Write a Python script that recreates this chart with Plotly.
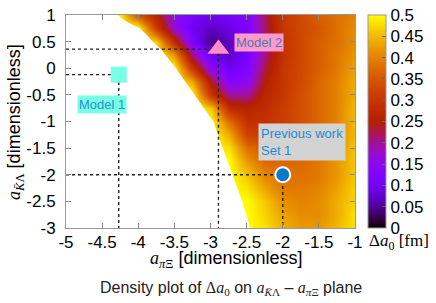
import math
import plotly.graph_objects as go

# ---------------- data ----------------
a_pixi = [-5.0, -4.75, -4.5, -4.25, -4.0, -3.75, -3.5, -3.25, -3.0,
          -2.75, -2.5, -2.25, -2.0, -1.75, -1.5, -1.25, -1.0]
a_kl = [1.0, 0.75, 0.5, 0.25, 0.0, -0.25, -0.5, -0.75, -1.0,
        -1.25, -1.5, -1.75, -2.0, -2.25, -2.5, -2.75, -3.0]

# Delta a0 [fm], rows from a_kl = 1 (top) down to a_kl = -3 (bottom)
delta_a0 = [
    [0.50, 0.50, 0.50, 0.49, 0.34, 0.26, 0.16, 0.11, 0.10, 0.11, 0.13, 0.22, 0.30, 0.33, 0.36, 0.38, 0.40],
    [0.50, 0.50, 0.50, 0.50, 0.50, 0.31, 0.17, 0.10, 0.07, 0.09, 0.12, 0.22, 0.30, 0.33, 0.35, 0.38, 0.41],
    [0.50, 0.50, 0.50, 0.50, 0.50, 0.47, 0.28, 0.12, 0.04, 0.07, 0.11, 0.21, 0.29, 0.33, 0.36, 0.38, 0.41],
    [0.50, 0.50, 0.50, 0.50, 0.50, 0.50, 0.42, 0.21, 0.09, 0.07, 0.11, 0.21, 0.29, 0.33, 0.36, 0.39, 0.42],
    [0.50, 0.50, 0.50, 0.50, 0.50, 0.50, 0.50, 0.30, 0.15, 0.10, 0.12, 0.23, 0.30, 0.33, 0.36, 0.39, 0.43],
    [0.50, 0.50, 0.50, 0.50, 0.50, 0.50, 0.50, 0.44, 0.24, 0.14, 0.15, 0.25, 0.30, 0.33, 0.37, 0.40, 0.44],
    [0.50, 0.50, 0.50, 0.50, 0.50, 0.50, 0.50, 0.50, 0.30, 0.20, 0.20, 0.27, 0.30, 0.34, 0.37, 0.40, 0.44],
    [0.50, 0.50, 0.50, 0.50, 0.50, 0.50, 0.50, 0.50, 0.46, 0.28, 0.26, 0.28, 0.31, 0.34, 0.37, 0.40, 0.45],
    [0.50, 0.50, 0.50, 0.50, 0.50, 0.50, 0.50, 0.50, 0.50, 0.38, 0.29, 0.29, 0.31, 0.34, 0.37, 0.40, 0.45],
    [0.50, 0.50, 0.50, 0.50, 0.50, 0.50, 0.50, 0.50, 0.50, 0.44, 0.32, 0.31, 0.33, 0.35, 0.38, 0.41, 0.45],
    [0.50, 0.50, 0.50, 0.50, 0.50, 0.50, 0.50, 0.50, 0.50, 0.48, 0.38, 0.35, 0.35, 0.36, 0.38, 0.41, 0.46],
    [0.50, 0.50, 0.50, 0.50, 0.50, 0.50, 0.50, 0.50, 0.50, 0.50, 0.42, 0.37, 0.37, 0.37, 0.39, 0.42, 0.46],
    [0.50, 0.50, 0.50, 0.50, 0.50, 0.50, 0.50, 0.50, 0.50, 0.50, 0.46, 0.40, 0.38, 0.38, 0.39, 0.42, 0.46],
    [0.50, 0.50, 0.50, 0.50, 0.50, 0.50, 0.50, 0.50, 0.50, 0.50, 0.48, 0.43, 0.39, 0.39, 0.40, 0.43, 0.47],
    [0.50, 0.50, 0.50, 0.50, 0.50, 0.50, 0.50, 0.50, 0.50, 0.50, 0.50, 0.46, 0.41, 0.40, 0.41, 0.44, 0.47],
    [0.50, 0.50, 0.50, 0.50, 0.50, 0.50, 0.50, 0.50, 0.50, 0.50, 0.50, 0.47, 0.43, 0.41, 0.41, 0.44, 0.48],
    [0.50, 0.50, 0.50, 0.50, 0.50, 0.50, 0.50, 0.50, 0.50, 0.50, 0.50, 0.48, 0.44, 0.42, 0.42, 0.45, 0.48],
]

# edge of the region where a solution exists (white = no solution)
edge_a_kl = [1.0, 0.875, 0.75, 0.625, 0.5, 0.375, 0.25, 0.125, 0.0,
             -0.25, -0.5, -0.75, -1.0, -1.5, -2.0, -2.5, -3.0]
edge_a_pixi = [-4.29, -4.16, -3.98, -3.88, -3.80, -3.70, -3.62, -3.55, -3.48,
               -3.35, -3.22, -3.08, -2.96, -2.83, -2.69, -2.56, -2.45]

model_names = ["Model 1", "Model 2", "Previous work<br>Set 1"]
model_a_pixi = [-4.27, -2.89, -2.0]
model_a_kl = [-0.12, 0.36, -2.0]

x_ticks = [-5, -4.5, -4, -3.5, -3, -2.5, -2, -1.5, -1]
x_ticktext = ["-5", "-4.5", "-4", "-3.5", "-3", "-2.5", "-2", "-1.5", "-1"]
y_ticks = [-3, -2.5, -2, -1.5, -1, -0.5, 0, 0.5, 1]
y_ticktext = ["-3", "-2.5", "-2", "-1.5", "-1", "-0.5", "0", "0.5", "1"]
cb_ticks = [0, 0.05, 0.1, 0.15, 0.2, 0.25, 0.3, 0.35, 0.4, 0.45, 0.5]
cb_ticktext = ["0", "0.05", "0.1", "0.15", "0.2", "0.25", "0.3", "0.35", "0.4", "0.45", "0.5"]

# ---------------- style ----------------
def pm3d(t):
    r = math.sqrt(t)
    g = t ** 3
    b = max(0.0, math.sin(2 * math.pi * t))
    return "rgb(%d,%d,%d)" % (round(255 * r), round(255 * g), round(255 * b))

colorscale = [[i / 40, pm3d(i / 40)] for i in range(41)]

xmin, xmax = x_ticks[0], x_ticks[-1]
ymin, ymax = y_ticks[0], y_ticks[-1]
TICKFONT = dict(family="Liberation Sans", size=17, color="black")

fig = go.Figure()

fig.add_trace(go.Heatmap(
    x=a_pixi, y=a_kl[::-1], z=delta_a0[::-1],
    zmin=0, zmax=0.5, zsmooth="best", colorscale=colorscale,
    hoverinfo="skip",
    colorbar=dict(
        x=1.045, xanchor="left", y=0.5, yanchor="middle",
        len=1, lenmode="fraction", thickness=18, ypad=0, xpad=0,
        outlinecolor="#999999", outlinewidth=1,
        tickvals=cb_ticks, ticktext=cb_ticktext,
        ticks="inside", ticklen=4, tickcolor="#666666",
        tickfont=TICKFONT,
    ),
))

# white no-solution region
fig.add_trace(go.Scatter(
    x=[xmin] + edge_a_pixi + [xmin],
    y=[edge_a_kl[0]] + edge_a_kl + [edge_a_kl[-1]],
    mode="lines", fill="toself", fillcolor="white",
    line=dict(width=0, color="white"), hoverinfo="skip",
))

# dotted guide lines
for mx, my in zip(model_a_pixi, model_a_kl):
    fig.add_trace(go.Scatter(
        x=[xmin, mx, mx], y=[my, my, ymin], mode="lines",
        line=dict(color="#222222", width=1.4, dash="dot"), hoverinfo="skip",
    ))

symbols = ["square", "triangle-up", "circle"]
colors = ["#78ffe6", "#ff8cc8", "#0a78c8"]
sizes = [16, 19, 15]
lines_w = [0, 0, 2]
for i in range(3):
    fig.add_trace(go.Scatter(
        x=[model_a_pixi[i]], y=[model_a_kl[i]], mode="markers",
        marker=dict(symbol=symbols[i], color=colors[i], size=sizes[i],
                    line=dict(color="white", width=lines_w[i])),
        hoverinfo="skip",
    ))

# labels
fig.add_annotation(x=-4.5, y=-0.69, text=model_names[0], showarrow=False,
                   xanchor="center", yanchor="middle",
                   bgcolor="#78ffe6", borderpad=1,
                   font=dict(family="Liberation Sans", size=13, color="#2a90d0"))
fig.add_annotation(x=-2.33, y=0.49, text=model_names[1], showarrow=False,
                   xanchor="center", yanchor="middle",
                   bgcolor="#ff99cc", borderpad=1,
                   font=dict(family="Liberation Sans", size=13, color="#4a78b0"))
fig.add_annotation(x=-1.73, y=-1.39, text=model_names[2], showarrow=False,
                   xanchor="center", yanchor="middle",
                   bgcolor="#d3d3d3", borderpad=2, align="left",
                   font=dict(family="Liberation Sans", size=13, color="#1c8ad6"))

serif = "font-family:'Liberation Serif'"
fig.add_annotation(
    xref="paper", yref="paper", x=-0.175, y=0.5, textangle=-90, showarrow=False,
    xanchor="center", yanchor="middle",
    text=f"<span style=\"{serif}\"><i>a</i><sub><i>K̄</i>Λ</sub></span> [dimensionless]",
    font=dict(family="Liberation Sans", size=18, color="black"))
fig.add_annotation(
    xref="paper", yref="paper", x=0.554, y=-0.148, showarrow=False,
    xanchor="center", yanchor="middle",
    text=f"<span style=\"{serif}\"><i>a</i><sub><i>π</i>Ξ</sub></span> [dimensionless]",
    font=dict(family="Liberation Sans", size=18, color="black"))
fig.add_annotation(
    xref="paper", yref="paper", x=1.152, y=-0.066, showarrow=False,
    xanchor="center", yanchor="middle",
    text="Δ<i>a</i><sub>0</sub> [fm]",
    font=dict(family="Liberation Serif", size=17, color="black"))
fig.add_annotation(
    xref="paper", yref="paper", x=0.571, y=-0.285, showarrow=False,
    xanchor="center", yanchor="middle",
    text=(f"Density plot of <span style=\"{serif}\">Δ<i>a</i><sub>0</sub></span> on "
          f"<span style=\"{serif}\"><i>a</i><sub><i>K̄</i>Λ</sub></span> – "
          f"<span style=\"{serif}\"><i>a</i><sub><i>π</i>Ξ</sub></span> plane"),
    font=dict(family="Liberation Sans", size=16, color="#222222"))

axis_common = dict(showgrid=False, zeroline=False, showline=True, linecolor="#999999",
                   linewidth=1, mirror="ticks", ticks="inside", ticklen=5,
                   tickcolor="#888888", tickfont=TICKFONT)
fig.update_xaxes(range=[xmin, xmax], tickvals=x_ticks, ticktext=x_ticktext,
                 ticklabelstandoff=-1, **axis_common)
fig.update_yaxes(range=[ymin, ymax], tickvals=y_ticks, ticktext=y_ticktext,
                 ticklabelstandoff=6, **axis_common)

fig.update_layout(
    width=436, height=303,
    margin=dict(l=66, r=81, t=15, b=75, autoexpand=False),
    plot_bgcolor="white", paper_bgcolor="white",
    showlegend=False,
)

fig.write_html("out.html", config={"displayModeBar": False},
               post_script="document.body.style.margin='0px';")
